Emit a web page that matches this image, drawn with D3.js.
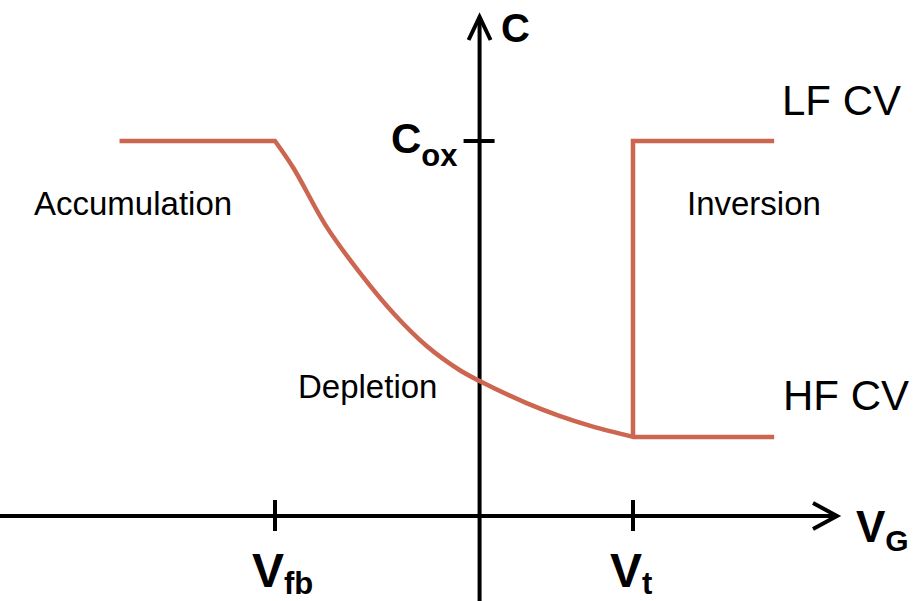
<!DOCTYPE html>
<html>
<head>
<meta charset="utf-8">
<script src="https://cdn.jsdelivr.net/npm/d3@7"></script>
<style>
  body { margin: 0; background: #fff; }
  svg { display: block; }
  text { font-family: "Liberation Sans", Arial, sans-serif; fill: #000; }
</style>
</head>
<body>
<div id="chart"></div>
<script>
// Gate voltage (arbitrary units) and normalised capacitance C/Cox
const accV = [-1.76, -1];
const accC = [1, 1];

const depV = [-1, -0.91, -0.75, -0.58, -0.42, -0.26, -0.1, 0, 0.23, 0.39, 0.55, 0.75];
const depC = [1, 0.928, 0.773, 0.645, 0.54, 0.454, 0.39, 0.36, 0.301, 0.267, 0.239, 0.211];

const hfV = [0.75, 1.44];
const hfC = [0.211, 0.211];

const lfV = [0.75, 0.75, 1.44];
const lfC = [0.211, 1, 1];

const vTicks = [-1, 0.75];
const vTickLabels = [['V', 'fb'], ['V', 't']];
const regionLabels = ['Accumulation', 'Depletion', 'Inversion'];
const curveLabels = ['LF CV', 'HF CV'];

const width = 917, height = 601;
const curveColor = '#cc6650';

const svg = d3.select('#chart').append('svg')
    .attr('width', width)
    .attr('height', height);

const x = d3.scaleLinear().domain([-1, 0.75]).range([275, 633]);
const y = d3.scaleLinear().domain([0, 1]).range([516, 141]);

const zip = (a, b) => a.map((v, i) => [v, b[i]]);

// Axes
const axes = svg.append('g')
    .attr('stroke', '#000')
    .attr('stroke-width', 4)
    .attr('fill', 'none');

const xMin = x.invert(0), xMax = x.invert(837);
const yMin = y.invert(height), yMax = y.invert(17);

axes.append('line')
    .attr('x1', x(xMin)).attr('x2', x(xMax))
    .attr('y1', y(0)).attr('y2', y(0));
axes.append('line')
    .attr('x1', x(0)).attr('x2', x(0))
    .attr('y1', y(yMin)).attr('y2', y(yMax));

// arrow heads
axes.append('polyline')
    .attr('points', [[x(xMax) - 24, y(0) - 13], [x(xMax), y(0)], [x(xMax) - 24, y(0) + 13]].join(' '))
    .attr('stroke-linejoin', 'miter');
axes.append('polyline')
    .attr('points', [[x(0) - 11, y(yMax) + 23], [x(0), y(yMax)], [x(0) + 11, y(yMax) + 23]].join(' '))
    .attr('stroke-linejoin', 'miter');

// ticks
axes.selectAll('line.vtick')
    .data(vTicks).enter()
    .append('line')
    .attr('class', 'vtick')
    .attr('x1', d => x(d)).attr('x2', d => x(d))
    .attr('y1', y(0) - 16).attr('y2', y(0) + 15);

axes.append('line')
    .attr('x1', x(0) - 16).attr('x2', x(0) + 15)
    .attr('y1', y(1)).attr('y2', y(1));

// Tick labels
const tickText = svg.append('g').selectAll('text')
    .data(vTicks).enter()
    .append('text')
    .attr('x', d => x(d) - 23)
    .attr('y', 587)
    .attr('font-weight', 'bold')
    .attr('font-size', 48);
tickText.append('tspan').text((d, i) => vTickLabels[i][0]);
tickText.append('tspan')
    .attr('font-size', 31)
    .attr('dy', 7)
    .text((d, i) => vTickLabels[i][1]);

const cox = svg.append('text')
    .attr('x', 391)
    .attr('y', 153)
    .attr('font-weight', 'bold')
    .attr('font-size', 42);
cox.append('tspan').text('C');
cox.append('tspan').attr('font-size', 31).attr('dy', 13).text('ox');

// Axis titles
svg.append('text')
    .attr('x', 501)
    .attr('y', 42)
    .attr('font-weight', 'bold')
    .attr('font-size', 40)
    .text('C');

const vg = svg.append('text')
    .attr('x', 856)
    .attr('y', 542)
    .attr('font-weight', 'bold')
    .attr('font-size', 44);
vg.append('tspan').text('V');
vg.append('tspan').attr('font-size', 30).attr('dy', 9).text('G');

// Curves
const line = d3.line().x(d => x(d[0])).y(d => y(d[1]));
const smooth = d3.line().x(d => x(d[0])).y(d => y(d[1])).curve(d3.curveCatmullRom.alpha(0.5));

const hfPath = line(zip(accV, accC))
    + smooth(zip(depV, depC)).replace(/^M/, 'L')
    + line(zip(hfV, hfC)).replace(/^M/, 'L');

svg.append('path')
    .attr('d', hfPath)
    .attr('fill', 'none')
    .attr('stroke', curveColor)
    .attr('stroke-width', 4.5)
    .attr('stroke-linejoin', 'miter');

svg.append('path')
    .attr('d', line(zip(lfV, lfC)))
    .attr('fill', 'none')
    .attr('stroke', curveColor)
    .attr('stroke-width', 4.5)
    .attr('stroke-linejoin', 'miter');

// Region labels
const regionPos = [[34, 215], [298, 398], [687, 215]];
svg.append('g').selectAll('text')
    .data(regionLabels).enter()
    .append('text')
    .attr('x', (d, i) => regionPos[i][0])
    .attr('y', (d, i) => regionPos[i][1])
    .attr('font-size', 33)
    .text(d => d);

const curvePos = [[782, 115], [783, 410]];
svg.append('g').selectAll('text')
    .data(curveLabels).enter()
    .append('text')
    .attr('x', (d, i) => curvePos[i][0])
    .attr('y', (d, i) => curvePos[i][1])
    .attr('font-size', 42)
    .text(d => d);
</script>
</body>
</html>
